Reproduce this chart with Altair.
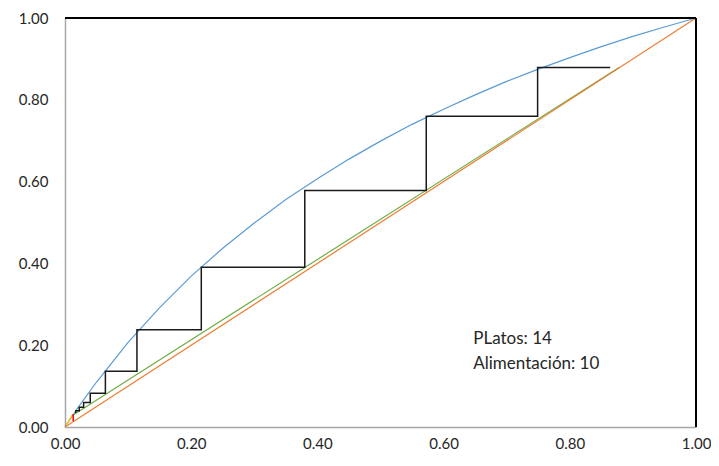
import altair as alt
import pandas as pd

# Equilibrium curve
eq_x = [0, 0.02, 0.05, 0.10, 0.15, 0.20, 0.25, 0.30, 0.35, 0.40, 0.45, 0.50, 0.55, 0.60, 0.65, 0.70, 0.75, 0.80, 0.85, 0.90, 0.95, 1.00]
eq_y = [0, 0.046, 0.110, 0.207, 0.292, 0.369, 0.437, 0.499, 0.556, 0.607, 0.655, 0.699, 0.740, 0.777, 0.812, 0.845, 0.875, 0.903, 0.930, 0.955, 0.978, 1.00]

# Diagonal y = x
diag_x = [0, 1.0]
diag_y = [0, 1.0]

# Operating line
op_x = [0.0105, 0.878]
op_y = [0.027, 0.879]

# Staircase (plates)
st_x = [0.864, 0.749, 0.749, 0.5725, 0.5725, 0.380, 0.380, 0.216, 0.216, 0.114, 0.114, 0.064, 0.064, 0.040, 0.040, 0.0295, 0.0295, 0.0226, 0.0226, 0.017, 0.017]
st_y = [0.879, 0.879, 0.760, 0.760, 0.578, 0.578, 0.3905, 0.3905, 0.238, 0.238, 0.1366, 0.1366, 0.0825, 0.0825, 0.060, 0.060, 0.0485, 0.0485, 0.040, 0.040, 0.034]

# Small segments near the origin
red_x = [0.013, 0.013]
red_y = [0.014, 0.031]
yel_x = [0.002, 0.011]
yel_y = [0.004, 0.028]

label_lines = ["PLatos: 14", "Alimentación: 10"]
label_x = [0.647, 0.647]
label_y = [0.215, 0.155]


def df(xs, ys):
    return pd.DataFrame({"x": xs, "y": ys, "o": list(range(len(xs)))})


xsc = alt.Scale(domain=[0, 1], nice=False, zero=False)
ysc = alt.Scale(domain=[0, 1], nice=False, zero=False)

xax = alt.Axis(values=[0, 0.2, 0.4, 0.6, 0.8, 1.0], format=".2f", grid=False, ticks=False,
               labelFlush=False, labelOverlap=False,
               domainColor="#A6A6A6", domainWidth=1.5, labelPadding=9, title=None)
yax = alt.Axis(values=[0, 0.2, 0.4, 0.6, 0.8, 1.0], format=".2f", grid=False, ticks=False,
               labelFlush=False, labelOverlap=False,
               domainColor="#A6A6A6", domainWidth=1.5, labelPadding=17, title=None)


def line(d, color, width):
    return alt.Chart(d).mark_line(color=color, strokeWidth=width).encode(
        x=alt.X("x:Q", scale=xsc, axis=xax),
        y=alt.Y("y:Q", scale=ysc, axis=yax),
        order="o:Q",
    )


base_frame = alt.Chart(pd.DataFrame({"v": [1.0]}))
top_rule = base_frame.mark_rule(color="black", strokeWidth=2).encode(y=alt.Y("v:Q", scale=ysc, axis=yax))
right_rule = base_frame.mark_rule(color="black", strokeWidth=2).encode(x=alt.X("v:Q", scale=xsc, axis=xax))

text = alt.Chart(pd.DataFrame({"t": label_lines, "x": label_x, "y": label_y})).mark_text(
    align="left", baseline="middle", font="Lato", fontSize=17, color="#262626"
).encode(
    x=alt.X("x:Q", scale=xsc, axis=xax),
    y=alt.Y("y:Q", scale=ysc, axis=yax),
    text="t:N",
)

chart = alt.layer(
    line(df(eq_x, eq_y), "#5B9BD5", 1.2),
    line(df(op_x, op_y), "#70AD47", 1.2),
    line(df(diag_x, diag_y), "#ED7D31", 1.2),
    line(df(st_x, st_y), "#1a1a1a", 1.5),
    line(df(yel_x, yel_y), "#FFC000", 1.2),
    line(df(red_x, red_y), "#FF0000", 1.5),
    top_rule,
    right_rule,
    text,
).properties(
    width=631,
    height=409,
    autosize=alt.AutoSizeParams(type="none"),
    padding={"left": 57, "top": 10, "right": 15, "bottom": 30},
).configure_view(stroke=None).configure_axis(
    labelFont="Lato", labelFontSize=15, labelColor="#262626"
)

chart.save("out.html", embed_options={"renderer": "svg", "actions": False})
